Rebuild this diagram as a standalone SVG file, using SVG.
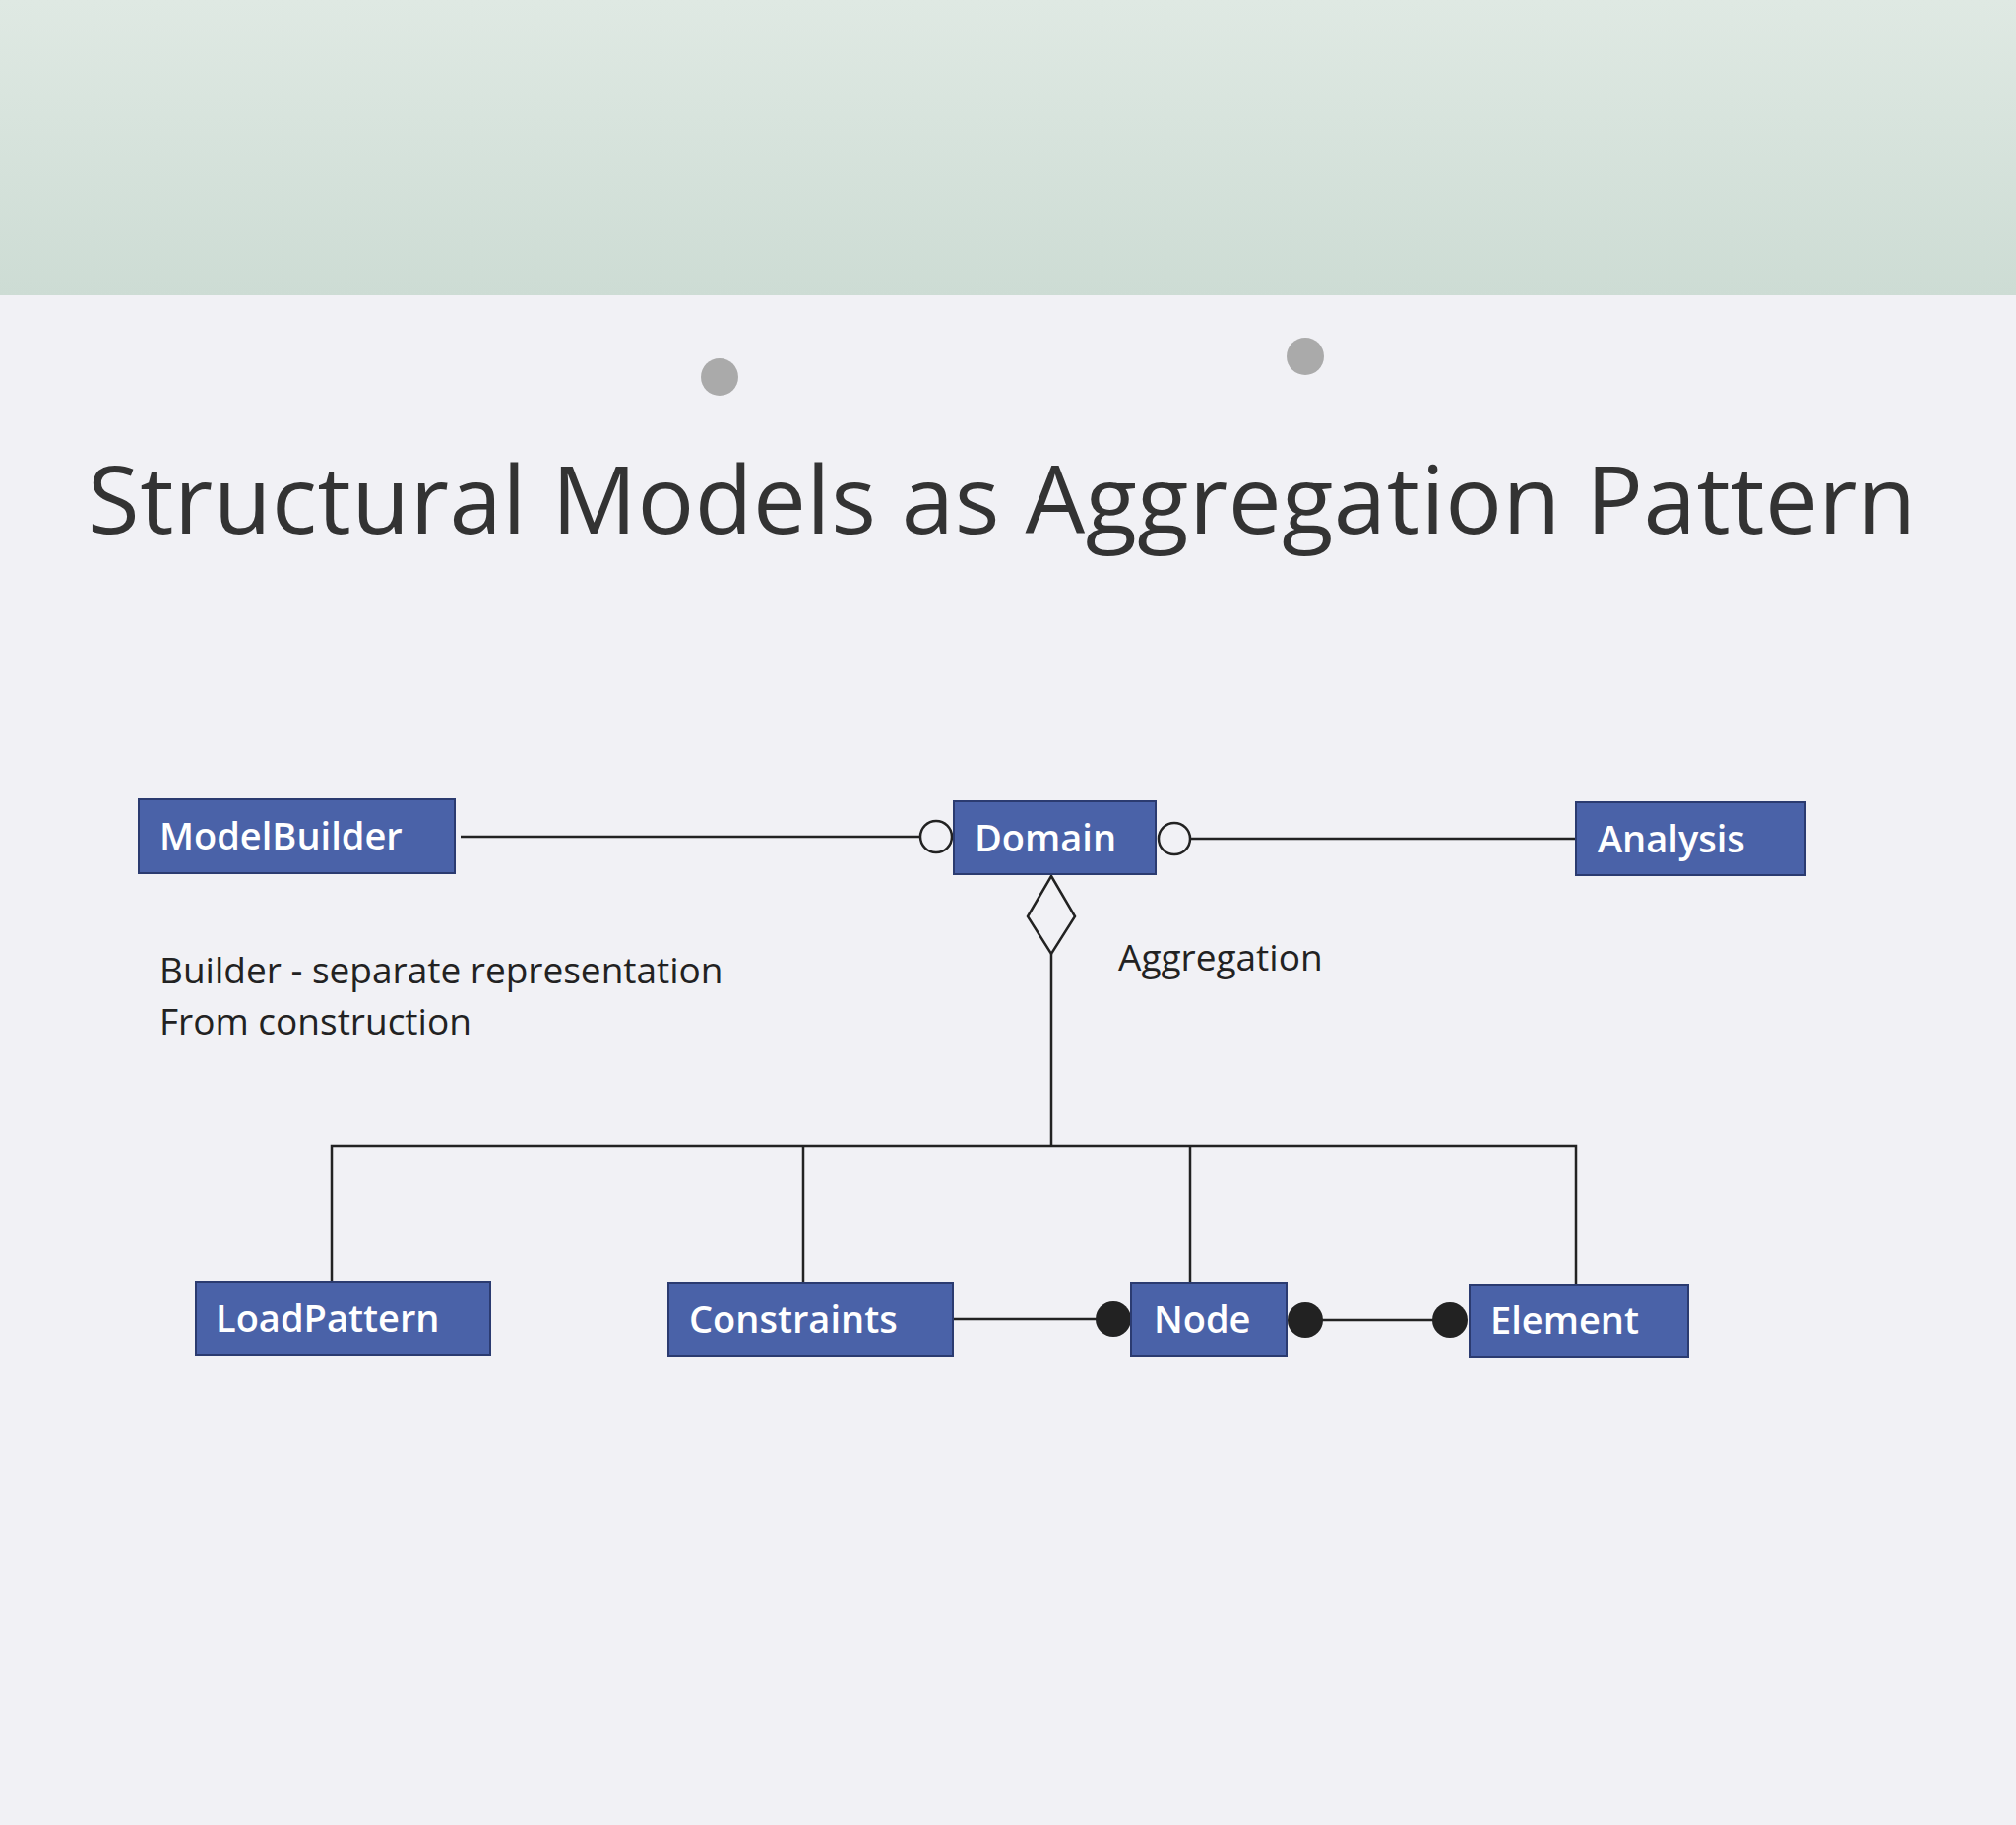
<svg xmlns="http://www.w3.org/2000/svg" width="2048" height="1854" viewBox="0 0 2048 1854">
<defs>
<linearGradient id="band" x1="0" y1="0" x2="0" y2="1"><stop offset="0" stop-color="#dfe9e3"/><stop offset="1" stop-color="#cddcd4"/></linearGradient>
<style>
.box{fill:#4a62a8;stroke:#2b3b70;stroke-width:2}
.bt{fill:#fff;font-family:"Open Sans","Liberation Sans",sans-serif;font-size:38px;font-weight:600}
.ln{stroke:#222;stroke-width:2.5;fill:none}
.lbl{fill:#222;font-family:"Open Sans","Liberation Sans",sans-serif;font-size:37px}
</style>
</defs>
<rect width="2048" height="1854" fill="#f1f1f5"/>
<rect width="2048" height="300" fill="url(#band)"/>
<circle cx="731" cy="383" r="19" fill="#aaa"/>
<circle cx="1326" cy="362" r="19" fill="#aaa"/>
<text x="89" y="542" font-family="Open Sans,Liberation Sans,sans-serif" font-size="96" fill="#333" textLength="1857">Structural Models as Aggregation Pattern</text>
<g id="connectors">
<line class="ln" x1="468" y1="850" x2="935" y2="850"/>
<circle class="ln" cx="951" cy="850" r="16" fill="#fff"/>
<circle class="ln" cx="1193" cy="852" r="16" fill="#fff"/>
<line class="ln" x1="1209" y1="852" x2="1601" y2="852"/>
<polygon class="ln" points="1068,890 1092,931 1068,969 1044,931" fill="#fff"/>
<line class="ln" x1="1068" y1="969" x2="1068" y2="1164"/>
<polyline class="ln" points="337,1302 337,1164 1601,1164 1601,1305"/>
<line class="ln" x1="816" y1="1164" x2="816" y2="1303"/>
<line class="ln" x1="1209" y1="1164" x2="1209" y2="1303"/>
<line class="ln" x1="968" y1="1340" x2="1131" y2="1340"/>
<circle cx="1131" cy="1340" r="18" fill="#222"/>
<line class="ln" x1="1326" y1="1341" x2="1473" y2="1341"/>
<circle cx="1326" cy="1341" r="18" fill="#222"/>
<circle cx="1473" cy="1341" r="18" fill="#222"/>
</g>
<g id="ModelBuilder"><rect class="box" x="141" y="812" width="321" height="75"/><text class="bt" x="162" y="863">ModelBuilder</text></g>
<g id="Domain"><rect class="box" x="969" y="814" width="205" height="74"/><text class="bt" x="990" y="865">Domain</text></g>
<g id="Analysis"><rect class="box" x="1601" y="815" width="233" height="74"/><text class="bt" x="1623" y="866">Analysis</text></g>
<g id="LoadPattern"><rect class="box" x="199" y="1302" width="299" height="75"/><text class="bt" x="219" y="1353">LoadPattern</text></g>
<g id="Constraints"><rect class="box" x="679" y="1303" width="289" height="75"/><text class="bt" x="700" y="1354">Constraints</text></g>
<g id="Node"><rect class="box" x="1149" y="1303" width="158" height="75"/><text class="bt" x="1172" y="1354">Node</text></g>
<g id="Element"><rect class="box" x="1493" y="1305" width="222" height="74"/><text class="bt" x="1514" y="1355">Element</text></g>
<text class="lbl" x="1136" y="986">Aggregation</text>
<text class="lbl" x="162" y="999">Builder - separate representation</text>
<text class="lbl" x="162" y="1051">From construction</text>
</svg>
